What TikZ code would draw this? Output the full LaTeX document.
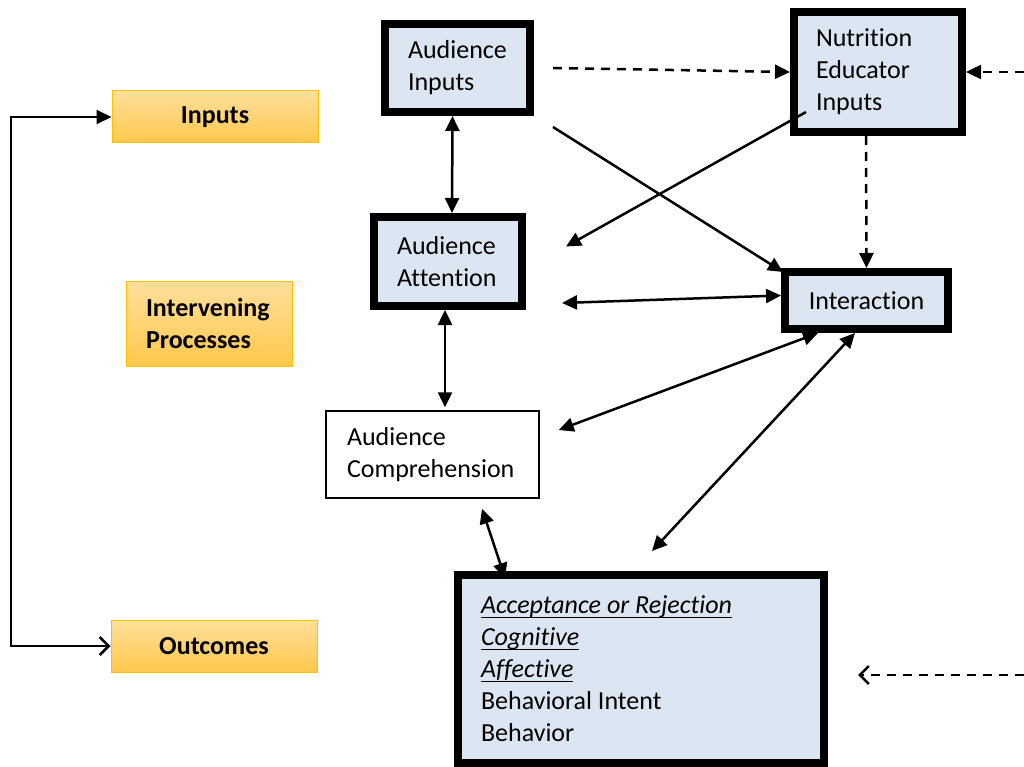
\documentclass[tikz,border=0pt]{standalone}
\usepackage{fontspec}
\setmainfont{Carlito}[Ligatures=NoCommon]
\usetikzlibrary{arrows.meta}
\definecolor{lblue}{HTML}{DCE6F2}
\definecolor{otop}{HTML}{FFDF9C}
\definecolor{obot}{HTML}{FFC84C}
\definecolor{oline}{HTML}{FFC000}
\newcommand\myul[1]{\leavevmode\setbox0\hbox{#1}\rlap{\rule[-4.5pt]{\wd0}{1.8pt}}\box0}
\begin{document}
\lefthyphenmin=62
\begin{tikzpicture}[x=1pt,y=-1pt,
  font=\fontsize{26}{32}\selectfont,
  execute at begin node={\spaceskip=0pt\xspaceskip=0pt},
  thickbox/.style={draw=black,line width=8pt,fill=lblue,inner xsep=0pt,inner ysep=0pt,align=left},
  thinbox/.style={draw=black,line width=1.5pt,fill=white,inner xsep=0pt,inner ysep=0pt,align=left},
  lab/.style={draw=oline,line width=1pt,top color=otop,bottom color=obot,inner sep=0pt,font=\fontsize{26}{32}\selectfont\bfseries},
  conn/.style={line width=2.5pt},
  dsh/.style={line width=2.5pt,dash pattern=on 9pt off 7pt},
  tri/.tip={Triangle[length=15pt,width=14pt]},
  barb/.tip={Straight Barb[length=9pt,width=18pt,line width=2.5pt]}
]
\useasboundingbox (0,0) rectangle (1024,767);
% label boxes
\node[lab,minimum width=206pt,minimum height=52pt] (inp) at (215,117) {Inputs};
\node[lab,minimum width=166pt,minimum height=85pt,text width=126pt,align=left] (ivp) at (209,323.5) {Intervening\\Processes};
\node[lab,minimum width=206pt,minimum height=52pt] (out) at (214,646) {Outcomes};
% main boxes
\node[thickbox,minimum width=145pt,minimum height=88pt,text width=99pt] (ai) at (457.5,68) {Audience\\Inputs};
\node[thickbox,minimum width=168pt,minimum height=120pt,text width=124pt] (ne) at (878,72) {Nutrition\\Educator\\Inputs};
\node[thickbox,minimum width=148pt,minimum height=89pt,text width=102pt] (aa) at (448,261.5) {Audience\\Attention};
\node[thickbox,minimum width=163pt,minimum height=57pt,align=center] (ia) at (866.5,300.5) {Interaction};
\node[thinbox,minimum width=213pt,minimum height=87pt,text width=171pt] (ac) at (432.5,454.5) {Audience\\Comprehension};
\node[thickbox,minimum width=366pt,minimum height=188pt,text width=320pt] (bb) at (641,669) {\myul{\textit{Acceptance or Rejection}}\\\myul{\textit{Cognitive}}\\\myul{\textit{Affective}}\\Behavioral Intent\\Behavior};
% free ends
\coordinate (rin) at (1024,72);
\coordinate (rout) at (1024,675);
% left bracket
\draw[line width=2pt,{tri}-{barb}] (inp.west) -- ++(-101pt,0) |- (out.west);
% dashed connectors
\draw[dsh,-{tri}] (ai.east) ++(19pt,0) -- (ne.west);
\draw[dsh,-{tri}] (rin) -- (ne.east);
\draw[dsh,-{tri}] ([xshift=-12pt]ne.south) -- (ia.north);
\draw[dsh,-{barb}] (rout) -- ([xshift=30pt,yshift=-6pt]bb.east);
% solid connectors
\draw[conn,-{tri}] ([xshift=19pt,yshift=-11pt]ai.south east) -- ([xshift=2pt,yshift=-4pt]ia.north west);
\draw[conn,-{tri}] ([xshift=16pt,yshift=-40pt]ne.west) -- ([xshift=40pt,yshift=15pt]aa.east);
\draw[conn,{tri}-{tri}] ([xshift=-5pt]ai.south) -- ([xshift=4pt]aa.north);
\draw[conn,{tri}-{tri}] ([xshift=-3pt]aa.south) -- ([xshift=12.5pt,yshift=3pt]ac.north);
\draw[conn,{tri}-{tri}] ([xshift=36pt,yshift=7pt]aa.south east) -- ([yshift=5pt]ia.west);
\draw[conn,{tri}-{tri}] ([xshift=19pt,yshift=24.5pt]ac.east) -- ([xshift=-48.5pt]ia.south);
\draw[conn,{tri}-{tri}] ([xshift=11pt,yshift=20pt]bb.north) -- ([xshift=-11.5pt]ia.south);
\draw[conn,{tri}-{tri}] ([xshift=49.5pt,yshift=-10pt]ac.south) -- ([xshift=51pt,yshift=-7pt]bb.north west);
\end{tikzpicture}
\end{document}
